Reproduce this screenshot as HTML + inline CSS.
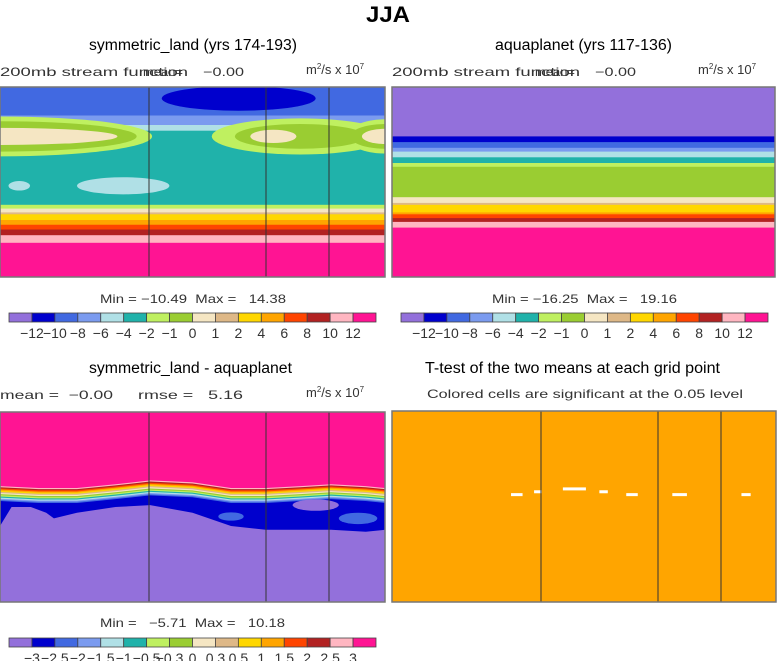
<!DOCTYPE html>
<html><head><meta charset="utf-8">
<style>
html,body{margin:0;padding:0;background:#fff;width:777px;height:661px;overflow:hidden}
svg{display:block}
.t{font-family:"Liberation Sans",sans-serif;fill:#000}
.s{font-family:"Liberation Sans",sans-serif;fill:#333;white-space:pre}
</style></head>
<body>
<svg id="fig" width="777" height="661" viewBox="0 0 777 661" xmlns="http://www.w3.org/2000/svg" xml:space="preserve">
<text class="t" x="366" y="22" font-size="22" font-weight="bold" textLength="44" lengthAdjust="spacingAndGlyphs">JJA</text>
<text class="t" x="89" y="50" font-size="15.5" textLength="208" lengthAdjust="spacingAndGlyphs">symmetric_land (yrs 174-193)</text>
<text class="t" x="495" y="50" font-size="15.5" textLength="177" lengthAdjust="spacingAndGlyphs">aquaplanet (yrs 117-136)</text>
<text class="t" x="89" y="373" font-size="15.5" textLength="203" lengthAdjust="spacingAndGlyphs">symmetric_land - aquaplanet</text>
<text class="t" x="425" y="373" font-size="15.5" textLength="295" lengthAdjust="spacingAndGlyphs">T-test of the two means at each grid point</text>

<text class="s" x="0" y="76" font-size="12" textLength="188" lengthAdjust="spacingAndGlyphs">200mb stream function</text>
<text class="s" x="143" y="76" font-size="12" textLength="40" lengthAdjust="spacingAndGlyphs">mean=</text>
<text class="s" x="203" y="76" font-size="12" textLength="41" lengthAdjust="spacingAndGlyphs">−0.00</text>
<text class="s" x="306" y="74" font-size="13">m<tspan font-size="8" dy="-5">2</tspan><tspan dy="5">/s x 10</tspan><tspan font-size="8" dy="-5">7</tspan></text>
<text class="s" x="392" y="76" font-size="12" textLength="188" lengthAdjust="spacingAndGlyphs">200mb stream function</text>
<text class="s" x="535" y="76" font-size="12" textLength="40" lengthAdjust="spacingAndGlyphs">mean=</text>
<text class="s" x="595" y="76" font-size="12" textLength="41" lengthAdjust="spacingAndGlyphs">−0.00</text>
<text class="s" x="698" y="74" font-size="13">m<tspan font-size="8" dy="-5">2</tspan><tspan dy="5">/s x 10</tspan><tspan font-size="8" dy="-5">7</tspan></text>
<text class="s" x="0" y="399" font-size="12" textLength="113" lengthAdjust="spacingAndGlyphs">mean =  −0.00</text>
<text class="s" x="138" y="399" font-size="12" textLength="105" lengthAdjust="spacingAndGlyphs">rmse =   5.16</text>
<text class="s" x="306" y="397" font-size="13">m<tspan font-size="8" dy="-5">2</tspan><tspan dy="5">/s x 10</tspan><tspan font-size="8" dy="-5">7</tspan></text>
<text class="s" x="427" y="398" font-size="12" textLength="316" lengthAdjust="spacingAndGlyphs">Colored cells are significant at the 0.05 level</text>

<text class="s" x="100" y="303" font-size="12" textLength="186" lengthAdjust="spacingAndGlyphs">Min = −10.49  Max =   14.38</text>
<text class="s" x="492" y="303" font-size="12" textLength="185" lengthAdjust="spacingAndGlyphs">Min = −16.25  Max =   19.16</text>
<text class="s" x="100" y="627" font-size="12" textLength="185" lengthAdjust="spacingAndGlyphs">Min =   −5.71  Max =   10.18</text>
<g id="g1"></g><g id="g2"></g><g id="g3"></g><g id="g4"></g><g id="cb"></g>
</svg>
<script>
const NS="http://www.w3.org/2000/svg";
const colors=["#9370db","#0000cd","#4169e1","#7b9bef","#b0e0e6","#20b2aa","#bff060","#9acd32","#f5e6c3","#deb887","#ffd700","#ffa500","#ff4500","#b22222","#ffb6c1","#ff1493"];
const labelsMain=["−12","−10","−8","−6","−4","−2","−1","0","1","2","4","6","8","10","12"];
const labelsDiff=["−3","−2.5","−2","−1.5","−1","−0.5","−0.3","0","0.3","0.5","1","1.5","2","2.5","3"];
const p1Bands=[[0,2],[0.15,3],[0.2,4],[0.23,5],[0.62,6],[0.64,8],[0.66,9],[0.67,10],[0.7,11],[0.725,12],[0.75,13],[0.78,14],[0.82,15]];
const p2Bands=[[0,0],[0.26,1],[0.29,2],[0.32,3],[0.34,4],[0.37,5],[0.4,6],[0.42,7],[0.58,8],[0.61,9],[0.62,10],[0.66,11],[0.67,12],[0.69,13],[0.71,14],[0.74,15]];
const p1Blobs=[[0.0,0.26,0.395,0.105,6],[0.0,0.26,0.355,0.08,7],[0.0,0.26,0.305,0.045,8],
 [0.78,0.26,0.23,0.095,6],[1.0,0.26,0.1,0.09,6],[0.78,0.26,0.17,0.065,7],[1.0,0.26,0.09,0.065,7],[0.71,0.26,0.06,0.035,8],[1.0,0.26,0.06,0.04,8],
 [0.62,0.06,0.2,0.065,1],[0.05,0.52,0.028,0.025,4],[0.32,0.52,0.12,0.045,4]];
const p3Lon=[0,0.1,0.2,0.3,0.39,0.5,0.6,0.69,0.78,0.86,0.95,1];
const p3Pink=[0.39,0.4,0.4,0.38,0.36,0.37,0.4,0.4,0.39,0.38,0.39,0.4];
const p3BotLon=[0,0.03,0.08,0.12,0.14,0.2,0.3,0.39,0.5,0.6,0.69,0.78,0.86,0.95,1];
const p3Bottom=[0.6,0.5,0.5,0.53,0.56,0.53,0.5,0.49,0.53,0.6,0.62,0.62,0.62,0.63,0.62];
const p3Blobs=[[0.6,0.55,0.033,0.022,2],[0.93,0.56,0.05,0.03,2],[0.82,0.49,0.06,0.03,0]];
const tDashes=[[0.31,0.43,0.03],[0.37,0.415,0.02],[0.445,0.4,0.06],[0.54,0.415,0.022],[0.61,0.43,0.03],[0.73,0.43,0.038],[0.91,0.43,0.024]];

function el(tag,attrs,parent){const e=document.createElementNS(NS,tag);for(const k in attrs)e.setAttribute(k,attrs[k]);parent.appendChild(e);return e;}
function panel(x0,y0,w,h){return {X:f=>x0+f*w,Y:f=>y0+f*h,w,h,x0,y0};}
function frame(g,P,lines,name){
  for(const lx of lines){const l=el('line',{x1:lx,y1:P.y0,x2:lx,y2:P.y0+P.h,stroke:'#333','stroke-width':1},g);
  
  }
  const r=el('rect',{x:P.x0,y:P.y0,width:P.w,height:P.h,fill:'none',stroke:'#777','stroke-width':1.5},g);
  
  
}
function bands(g,P,arr,name){
  arr.forEach((b,i)=>{const top=P.Y(b[0]),bot=i<arr.length-1?P.Y(arr[i+1][0]):P.Y(1);
    const r=el('rect',{x:P.x0,y:top,width:P.w,height:bot-top+0.5,fill:colors[b[1]]},g);
    
    });
}
function blobs(g,P,arr,name){
  arr.forEach(b=>{const e=el('ellipse',{cx:P.X(b[0]),cy:P.Y(b[1]),rx:b[2]*P.w,ry:b[3]*P.h,fill:colors[b[4]]},g);
    
    });
}
const g1=document.getElementById('g1');
const P1=panel(0,87,385,190);
const clip1=el('clipPath',{id:'c1'},g1);el('rect',{x:0,y:87,width:385,height:190},clip1);
const g1c=el('g',{'clip-path':'url(#c1)'},g1);
bands(g1c,P1,p1Bands,'panel1');blobs(g1c,P1,p1Blobs,'panel1');
frame(g1,P1,[149,266,329],'panel1');
const g2=document.getElementById('g2');
const P2=panel(392,87,383,190);
bands(g2,P2,p2Bands,'panel2');frame(g2,P2,[],'panel2');
const g3=document.getElementById('g3');
const P3=panel(0,412,385,190);
const clip3=el('clipPath',{id:'c3'},g3);el('rect',{x:0,y:412,width:385,height:190},clip3);
const g3c=el('g',{'clip-path':'url(#c3)'},g3);
let r0=el('rect',{x:0,y:412,width:385,height:190,fill:colors[0]},g3c);


function curve(lons,vals){let d='';lons.forEach((l,i)=>{d+=(i?'L':'M')+P3.X(l)+','+P3.Y(vals[i]);});return d;}
let botPts=p3BotLon.map((l,i)=>'L'+P3.X(l)+','+P3.Y(p3Bottom[i])).reverse().join('');
let pb=el('path',{d:curve(p3Lon,p3Pink)+botPts+'Z',fill:colors[1]},g3c);


for(let c=2;c<=14;c++){
  const p=el('path',{d:curve(p3Lon,p3Pink)+'L385,412L0,412Z',fill:colors[c],transform:'translate(0,'+((15-c)*1.15)+')'},g3c);
  
  
}
let pp=el('path',{d:curve(p3Lon,p3Pink)+'L385,412L0,412Z',fill:colors[15]},g3c);


blobs(g3c,P3,p3Blobs,'panel3');
frame(g3,P3,[149,266,329],'panel3');
const g4=document.getElementById('g4');
const P4=panel(392,411,384,191);
let ro=el('rect',{x:392,y:411,width:384,height:191,fill:'#ffa500'},g4);


tDashes.forEach(d=>{const r=el('rect',{x:P4.X(d[0]),y:P4.Y(d[1]),width:d[2]*P4.w,height:3,fill:'#fff'},g4);
 
 });
frame(g4,P4,[541,658,721],'panel4');
const cb=document.getElementById('cb');
function colorbar(x0,y0,w,labels,name){
  const bw=w/colors.length;
  colors.forEach((c,i)=>{const r=el('rect',{x:x0+i*bw,y:y0,width:bw,height:9,fill:c,stroke:'#444','stroke-width':0.8},cb);
    
    });
  labels.forEach((t,i)=>{const e=el('text',{x:x0+(i+1)*bw,y:y0+25,'text-anchor':'middle','font-size':14,class:'s'},cb);e.textContent=t;
    
    });
}
colorbar(9,313,367,labelsMain,'colorbar1');
colorbar(401,313,367,labelsMain,'colorbar2');
colorbar(9,638,367,labelsDiff,'colorbar3');
</script>
</body></html>
